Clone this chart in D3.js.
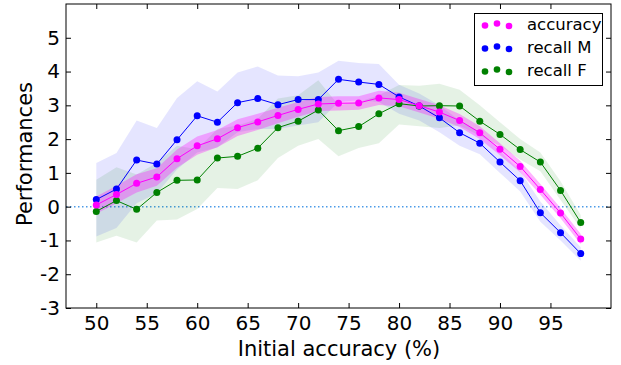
<!DOCTYPE html>
<html lang="en">
<head>
  <meta charset="UTF-8">
  <title></title>
  <style>
    html, body {
      margin: 0;
      overflow: hidden;
      width: 100%;
      height: 100%;
      background: #fff;
    }

    svg {
      position: absolute;
      top: 0;
      left: 0;
      font-family: 'DejaVu Sans', sans-serif;
    }
  </style>
</head>
<body>
  <svg width="621" height="365"></svg>
</body>
<script src="https://d3js.org/d3.v7.min.js"></script>
<script type="text/javascript">
  const xs = [50, 52, 54, 56, 58, 60, 62, 64, 66, 68, 70, 72, 74, 76, 78, 80, 82, 84, 86, 88, 90, 92, 94, 96, 98]

  const accuracy = [0.05, 0.36, 0.69, 0.88, 1.42, 1.80, 2.01, 2.34, 2.51, 2.70, 2.88, 3.04, 3.06, 3.07, 3.22, 3.17, 2.99, 2.80, 2.55, 2.19, 1.70, 1.19, 0.51, -0.19, -0.96]
  const accuracyLo = [-0.21, 0.10, 0.42, 0.62, 1.15, 1.54, 1.76, 2.09, 2.27, 2.47, 2.66, 2.83, 2.85, 2.87, 3.01, 2.97, 2.79, 2.60, 2.36, 2.00, 1.52, 1.02, 0.35, -0.34, -1.11]
  const accuracyHi = [0.30, 0.62, 0.96, 1.14, 1.69, 2.08, 2.27, 2.59, 2.75, 2.93, 3.10, 3.25, 3.27, 3.27, 3.43, 3.37, 3.19, 3.00, 2.74, 2.38, 1.88, 1.36, 0.67, -0.04, -0.81]

  const recallM = [0.21, 0.52, 1.38, 1.26, 1.98, 2.69, 2.50, 3.08, 3.20, 3.02, 3.17, 3.17, 3.77, 3.69, 3.62, 3.25, 2.98, 2.63, 2.19, 1.88, 1.32, 0.77, -0.18, -0.77, -1.39]
  const recallMLo = [-0.88, -0.63, 0.10, 0.40, 1.10, 1.60, 1.75, 2.20, 2.30, 2.30, 2.40, 2.50, 3.10, 3.15, 3.10, 2.75, 2.55, 2.20, 1.80, 1.55, 1.00, 0.45, -0.45, -1.00, -1.60]
  const recallMHi = [1.29, 1.59, 2.55, 2.33, 3.22, 3.71, 3.41, 3.97, 4.15, 3.88, 3.86, 3.97, 4.32, 4.25, 4.22, 3.61, 3.35, 3.00, 2.55, 2.20, 1.65, 1.05, 0.15, -0.55, -1.20]

  const recallF = [-0.14, 0.18, -0.08, 0.42, 0.78, 0.79, 1.44, 1.49, 1.73, 2.34, 2.53, 2.86, 2.25, 2.37, 2.75, 3.05, 2.98, 2.99, 2.98, 2.53, 2.14, 1.69, 1.32, 0.48, -0.47]
  const recallFLo = [-1.06, -0.86, -1.06, -0.41, -0.38, -0.07, 0.55, 0.52, 0.78, 1.44, 1.80, 2.00, 1.49, 1.74, 1.88, 2.43, 2.38, 2.33, 2.40, 2.10, 1.80, 1.40, 1.05, 0.20, -0.65]
  const recallFHi = [0.80, 1.17, 0.95, 1.30, 1.80, 1.70, 2.30, 2.40, 2.60, 3.20, 3.30, 3.74, 3.00, 3.10, 3.30, 3.60, 3.58, 3.64, 3.46, 3.00, 2.50, 2.00, 1.60, 0.75, -0.25]

  const xTicks = [50, 55, 60, 65, 70, 75, 80, 85, 90, 95]
  const yTicks = [-3, -2, -1, 0, 1, 2, 3, 4, 5]

  const series = [
    { name: 'recall M', color: '#0000ff', fill: 'rgba(0,0,255,0.1)', mean: recallM, lo: recallMLo, hi: recallMHi },
    { name: 'recall F', color: '#008000', fill: 'rgba(0,128,0,0.1)', mean: recallF, lo: recallFLo, hi: recallFHi },
    { name: 'accuracy', color: '#ff00ff', fill: 'rgba(255,0,255,0.3)', mean: accuracy, lo: accuracyLo, hi: accuracyHi }
  ]
  const legendOrder = ['accuracy', 'recall M', 'recall F']

  const svg = d3.select('svg')
  const mLeft = 66, mRight = 611, mTop = 4, mBottom = 308

  const x = d3.scaleLinear().domain([47, 101]).range([mLeft, mRight])
  const y = d3.scaleLinear().domain([-3, 6]).range([mBottom, mTop])

  // zero reference line
  svg.append('line')
    .attr('x1', mLeft).attr('x2', mRight)
    .attr('y1', y(0)).attr('y2', y(0))
    .attr('stroke', '#4c9be8')
    .attr('stroke-width', 1.5)
    .attr('stroke-dasharray', '1.5,2.5')

  const area = d3.area()
    .x((d, i) => x(xs[i]))
    .y0(d => y(d[0]))
    .y1(d => y(d[1]))

  const line = d3.line()
    .x((d, i) => x(xs[i]))
    .y(d => y(d))

  series.forEach(s => {
    svg.append('path')
      .datum(s.lo.map((v, i) => [v, s.hi[i]]))
      .attr('d', area)
      .attr('fill', s.fill)
      .attr('stroke', 'none')
  })

  series.forEach(s => {
    svg.append('path')
      .datum(s.mean)
      .attr('d', line)
      .attr('fill', 'none')
      .attr('stroke', s.color)
      .attr('stroke-width', 1)

    svg.append('g')
      .selectAll('circle')
      .data(s.mean)
      .enter()
      .append('circle')
      .attr('cx', (d, i) => x(xs[i]))
      .attr('cy', d => y(d))
      .attr('r', 3.5)
      .attr('fill', s.color)
  })

  // frame
  svg.append('rect')
    .attr('x', mLeft).attr('y', mTop)
    .attr('width', mRight - mLeft).attr('height', mBottom - mTop)
    .attr('fill', 'none')
    .attr('stroke', '#000')
    .attr('stroke-width', 1)

  // ticks pointing inwards on all four sides
  const tickLen = 5
  const fmt = d => String(d)
  svg.append('g').attr('transform', `translate(0,${mBottom})`)
    .call(d3.axisBottom(x).tickValues(xTicks).tickSize(-tickLen).tickPadding(8).tickFormat(fmt))
    .call(g => g.select('.domain').remove())
  svg.append('g').attr('transform', `translate(0,${mTop})`)
    .call(d3.axisTop(x).tickValues(xTicks).tickSize(-tickLen).tickFormat(''))
    .call(g => g.select('.domain').remove())
  svg.append('g').attr('transform', `translate(${mLeft},0)`)
    .call(d3.axisLeft(y).tickValues(yTicks).tickSize(-tickLen).tickPadding(6).tickFormat(fmt))
    .call(g => g.select('.domain').remove())
  svg.append('g').attr('transform', `translate(${mRight},0)`)
    .call(d3.axisRight(y).tickValues(yTicks).tickSize(-tickLen).tickFormat(''))
    .call(g => g.select('.domain').remove())

  svg.selectAll('.tick text')
    .attr('font-family', 'DejaVu Sans')
    .attr('font-size', 20)
    .attr('fill', '#000')
  svg.selectAll('.tick line').attr('stroke', '#000')

  svg.append('text')
    .attr('x', 339)
    .attr('y', 355.5)
    .attr('text-anchor', 'middle')
    .attr('font-size', 21)
    .text('Initial accuracy (%)')

  svg.append('text')
    .attr('transform', `translate(32,154) rotate(-90)`)
    .attr('text-anchor', 'middle')
    .attr('font-size', 21)
    .text('Performances')

  // legend
  const legend = svg.append('g')
  legend.append('rect')
    .attr('x', 474.5).attr('y', 13.5)
    .attr('width', 128).attr('height', 72)
    .attr('fill', '#fff')
    .attr('stroke', '#000')
    .attr('stroke-width', 1)

  const dotDx = [485, 497, 509]
  const dotDy = [1, -1, 1.5]
  legendOrder.forEach((name, k) => {
    const s = series.find(d => d.name === name)
    const cy = 24.5 + k * 23
    dotDx.forEach((dx, j) => {
      legend.append('circle')
        .attr('cx', dx).attr('cy', cy + dotDy[j])
        .attr('r', 3.3)
        .attr('fill', s.color)
    })
    legend.append('text')
      .attr('x', 527)
      .attr('y', cy + 5.5)
      .attr('font-size', 16.5)
      .text(name)
  })
</script>
</html>
